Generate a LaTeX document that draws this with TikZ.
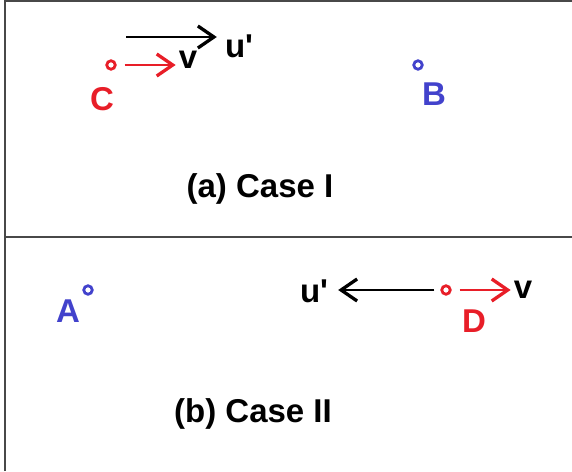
\documentclass[tikz,border=0pt]{standalone}
\usepackage{fontspec}
\setmainfont{Liberation Sans}
\usetikzlibrary{arrows.meta}

\definecolor{ptred}{RGB}{232,30,40}
\definecolor{ptblue}{RGB}{66,66,204}
\definecolor{framegray}{RGB}{72,72,72}

\tikzset{
  pt/.style={circle, draw, line width=2.8pt, inner sep=0pt, minimum size=8.5pt},
  lbl/.style={font=\bfseries\fontsize{33}{33}\selectfont, inner sep=0pt, anchor=base},
  vel/.style={line width=2.5pt, -{Straight Barb[length=16pt,width=22pt,line width=3.3pt]}},
  frame/.style={framegray, line width=2pt},
}
\newcommand{\uprime}{u\textquotesingle}

\begin{document}
\begin{tikzpicture}[x=1pt,y=-1pt]
  \useasboundingbox (0,0) rectangle (572,471);
  % frame
  \draw[frame] (5,471) -- (5,1) -- (572,1);
  \draw[frame] (5,237) -- (572,237);

  % (a) Case I
  \node[pt, ptred] (C) at (111,65) {};
  \node[lbl, ptred] (Clbl) at (102,110) {C};
  \node[lbl] (vC) at (188,68) {v};
  \draw[vel, ptred, shorten <=8pt, shorten >=3pt] (C) -- (vC.west |- C);
  \coordinate (uCstart) at (126,37);
  \node[lbl] (uC) at (239,57) {\uprime};
  \draw[vel, shorten >=8pt] (uCstart) -- (uC.west |- uCstart);
  \node[pt, ptblue] (B) at (418,65) {};
  \node[lbl, ptblue] (Blbl) at (434,105) {B};
  \node[lbl] (caseI) at (260,197) {(a) Case I};

  % (b) Case II
  \node[pt, ptblue] (A) at (88,290) {};
  \node[lbl, ptblue] (Albl) at (68,322) {A};
  \node[pt, ptred] (D) at (446,290) {};
  \node[lbl, ptred] (Dlbl) at (474,332) {D};
  \node[lbl] (vD) at (523,298) {v};
  \draw[vel, ptred, shorten <=8pt, shorten >=3pt] (D) -- (vD.west |- D);
  \node[lbl] (uD) at (314,302) {\uprime};
  \draw[vel, shorten <=6pt, shorten >=10pt] (D) -- (uD.east |- D);
  \node[lbl] (caseII) at (253,422) {(b) Case II};
\end{tikzpicture}
\end{document}
